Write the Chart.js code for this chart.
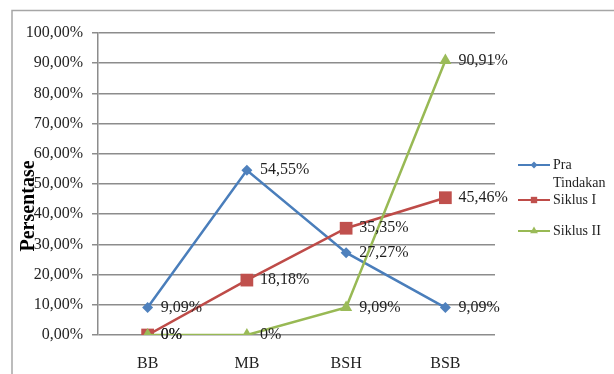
<!DOCTYPE html>
<html lang="id">
<head>
<meta charset="UTF-8">
<title>Persentase</title>
<script src="https://cdn.jsdelivr.net/npm/chart.js"></script>
<style>
  html, body { margin: 0; padding: 0; background: #fff; }
  #wrap { position: relative; width: 614px; height: 374px; }
</style>
</head>
<body>
<div id="wrap"><canvas id="chart"></canvas></div>
<script>
// data
const categories = ['BB', 'MB', 'BSH', 'BSB'];
const seriesNames = ['Pra Tindakan', 'Siklus I', 'Siklus II'];
const praTindakan = [9.09, 54.55, 27.27, 9.09];
const siklus1 = [0, 18.18, 35.35, 45.46];
const siklus2 = [0, 0, 9.09, 90.91];
const yTicks = [0, 10, 20, 30, 40, 50, 60, 70, 80, 90, 100];

const lineColors = ['#4a7ebb', '#be4b48', '#98b954'];
const markColors = ['#4f81bd', '#c0504d', '#9bbb59'];
const FONT = '"Liberation Serif", "Times New Roman", serif';

function pct(v) {
  return v === 0 ? '0%' : v.toFixed(2).replace('.', ',') + '%';
}

// frame, y title, value labels, legend
const extras = {
  id: 'extras',
  beforeDraw(chart) {
    const ctx = chart.ctx;
    ctx.save();
    ctx.fillStyle = '#fff';
    ctx.fillRect(0, 0, chart.width, chart.height);
    ctx.strokeStyle = '#a6a6a6';
    ctx.lineWidth = 1.5;
    ctx.beginPath();
    ctx.moveTo(12, chart.height);
    ctx.lineTo(12, 10.5);
    ctx.lineTo(chart.width, 10.5);
    ctx.stroke();
    ctx.restore();
  },
  afterDraw(chart) {
    const ctx = chart.ctx;
    ctx.save();
    // value labels
    ctx.font = '16px ' + FONT;
    ctx.fillStyle = '#1f1f1f';
    ctx.textBaseline = 'middle';
    ctx.textAlign = 'left';
    chart.data.datasets.forEach((ds, i) => {
      chart.getDatasetMeta(i).data.forEach((pt, j) => {
        ctx.fillText(pct(ds.data[j]), pt.x + 13, pt.y);
      });
    });

    // y axis title
    ctx.save();
    ctx.translate(29, 206);
    ctx.rotate(-Math.PI / 2);
    ctx.font = 'bold 20px ' + FONT;
    ctx.textAlign = 'center';
    ctx.textBaseline = 'middle';
    ctx.fillStyle = '#000';
    ctx.fillText('Persentase', 0, 0);
    ctx.restore();

    // legend
    const rows = [165, 200, 231];
    ctx.font = '14px ' + FONT;
    ctx.textAlign = 'left';
    chart.data.datasets.forEach((ds, i) => {
      const y = rows[i];
      ctx.strokeStyle = lineColors[i];
      ctx.lineWidth = 2;
      ctx.beginPath();
      ctx.moveTo(518, y);
      ctx.lineTo(550, y);
      ctx.stroke();
      ctx.fillStyle = markColors[i];
      Chart.helpers.drawPoint(ctx, {
        pointStyle: ds.pointStyle,
        radius: i === 0 ? 3.5 : 4.5,
        rotation: 0,
        borderWidth: 0
      }, 534, y);
      ctx.fillStyle = '#1f1f1f';
      const words = ds.label === 'Pra Tindakan' ? ['Pra', 'Tindakan'] : [ds.label];
      words.forEach((w, k) => ctx.fillText(w, 553, y + k * 18));
    });
    ctx.restore();
  }
};

function makeSet(i, data, style, radius) {
  return {
    label: seriesNames[i],
    data: data,
    borderColor: lineColors[i],
    backgroundColor: markColors[i],
    pointBackgroundColor: markColors[i],
    pointBorderColor: markColors[i],
    pointBorderWidth: 0,
    pointStyle: style,
    pointRadius: radius,
    borderWidth: 2.5,
    tension: 0,
    order: 3 - i
  };
}

new Chart(document.getElementById('chart'), {
  type: 'line',
  data: {
    labels: categories,
    datasets: [
      makeSet(0, praTindakan, 'rectRot', 5.5),
      makeSet(1, siklus1, 'rect', 9),
      makeSet(2, siklus2, 'triangle', 7)
    ]
  },
  options: {
    responsive: true,
    maintainAspectRatio: false,
    animation: false,
    devicePixelRatio: 1,
    layout: { padding: { left: 0, top: 33, right: 119, bottom: 0 } },
    plugins: {
      legend: { display: false },
      tooltip: { enabled: false }
    },
    scales: {
      x: {
        offset: true,
        grid: { display: false, drawTicks: false },
        border: { display: false },
        ticks: {
          padding: 19,
          color: '#1f1f1f',
          font: { family: FONT, size: 16 }
        },
        afterFit(scale) { scale.height = 39; }
      },
      y: {
        min: 0,
        max: 100,
        afterBuildTicks(scale) {
          scale.ticks = yTicks.map(v => ({ value: v }));
        },
        grid: { color: '#8c8c8c', lineWidth: 1.5, tickLength: 6 },
        border: { color: '#8c8c8c', width: 1.5 },
        ticks: {
          padding: 9,
          color: '#1f1f1f',
          font: { family: FONT, size: 16 },
          callback: v => v.toFixed(2).replace('.', ',') + '%'
        },
        afterFit(scale) { scale.width = 98; }
      }
    }
  },
  plugins: [extras]
});
</script>
</body>
</html>
